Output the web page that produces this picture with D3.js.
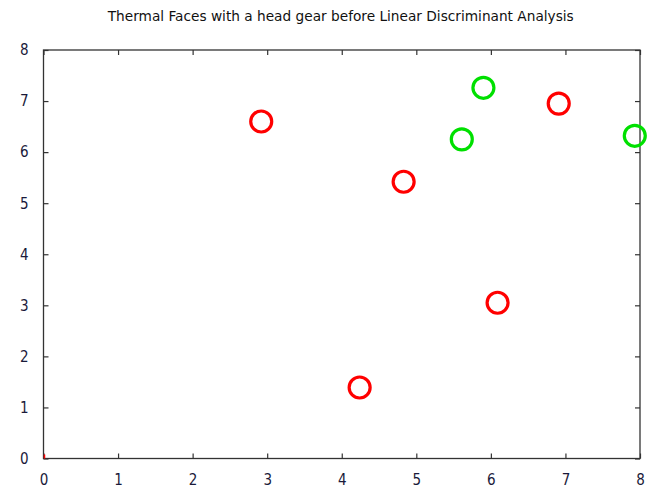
<!DOCTYPE html>
<html>
<head>
<meta charset="utf-8">
<script src="https://cdn.jsdelivr.net/npm/d3@7"></script>
<style>
  html, body { margin: 0; padding: 0; background: #fff; }
  svg text { font-family: "DejaVu Sans", Verdana, sans-serif; }
</style>
</head>
<body>
<svg id="chart" width="654" height="489"></svg>
<script>
// Class A samples (red) and class B samples (green)
const redX = [2.92, 4.83, 6.91, 6.09, 4.24];
const redY = [6.60, 5.42, 6.95, 3.05, 1.39];
const greenX = [5.90, 5.61, 7.93];
const greenY = [7.26, 6.25, 6.32];
const xTicks = [0, 1, 2, 3, 4, 5, 6, 7, 8];
const yTicks = [0, 1, 2, 3, 4, 5, 6, 7, 8];
const title = "Thermal Faces with a head gear before Linear Discriminant Analysis";

const svg = d3.select("#chart");
const plotLeft = 43.5, plotRight = 640, plotTop = 50, plotBottom = 458.5;

const x = d3.scaleLinear().domain([0, 8]).range([plotLeft, plotRight]);
const y = d3.scaleLinear().domain([0, 8]).range([plotBottom, plotTop]);

const axisColor = "#333";
const labelColor = "#1a1a3a";
const tickFont = "\"DejaVu Sans Condensed\", \"DejaVu Sans\", sans-serif";

// title
svg.append("text")
  .attr("x", (plotLeft + plotRight) / 2 - 1)
  .attr("y", 21)
  .attr("text-anchor", "middle")
  .attr("font-size", 13.7)
  .attr("fill", "#111")
  .text(title);

// frame
svg.append("rect")
  .attr("x", plotLeft).attr("y", plotTop)
  .attr("width", plotRight - plotLeft).attr("height", plotBottom - plotTop)
  .attr("fill", "none").attr("stroke", axisColor).attr("stroke-width", 1.3);

// inward ticks on all four sides, labels on bottom and left
const tickLen = 5;
const bottomAxis = d3.axisBottom(x).tickValues(xTicks).tickSize(-tickLen).tickPadding(16).tickFormat(d3.format("d"));
const topAxis = d3.axisTop(x).tickValues(xTicks).tickSize(-tickLen).tickFormat("");
const leftAxis = d3.axisLeft(y).tickValues(yTicks).tickSize(-tickLen).tickPadding(15).tickFormat(d3.format("d"));
const rightAxis = d3.axisRight(y).tickValues(yTicks).tickSize(-tickLen).tickFormat("");

function styleAxis(g) {
  g.select(".domain").remove();
  g.selectAll(".tick line").attr("stroke", axisColor).attr("stroke-width", 1.2);
  g.selectAll(".tick text").attr("fill", labelColor).attr("font-size", 15)
    .style("font-family", tickFont);
}

svg.append("g").attr("transform", `translate(0,${plotBottom})`).call(bottomAxis).call(styleAxis);
svg.append("g").attr("transform", `translate(0,${plotTop})`).call(topAxis).call(styleAxis);
svg.append("g").attr("transform", `translate(${plotLeft},0)`).call(leftAxis).call(styleAxis);
svg.append("g").attr("transform", `translate(${plotRight},0)`).call(rightAxis).call(styleAxis);

// small red mark at the origin
svg.append("line")
  .attr("x1", x(0) + 1).attr("x2", x(0) + 1)
  .attr("y1", y(0) - 4).attr("y2", y(0))
  .attr("stroke", "#ff0000").attr("stroke-width", 1.5);

// points
const red = redX.map((v, i) => ({ x: v, y: redY[i] }));
const green = greenX.map((v, i) => ({ x: v, y: greenY[i] }));

function drawPoints(data, color) {
  svg.append("g").selectAll("circle").data(data).join("circle")
    .attr("cx", d => x(d.x))
    .attr("cy", d => y(d.y))
    .attr("r", 10.5)
    .attr("fill", "none")
    .attr("stroke", color)
    .attr("stroke-width", 3.2);
}
drawPoints(red, "#ff0000");
drawPoints(green, "#00e000");
</script>
</body>
</html>
